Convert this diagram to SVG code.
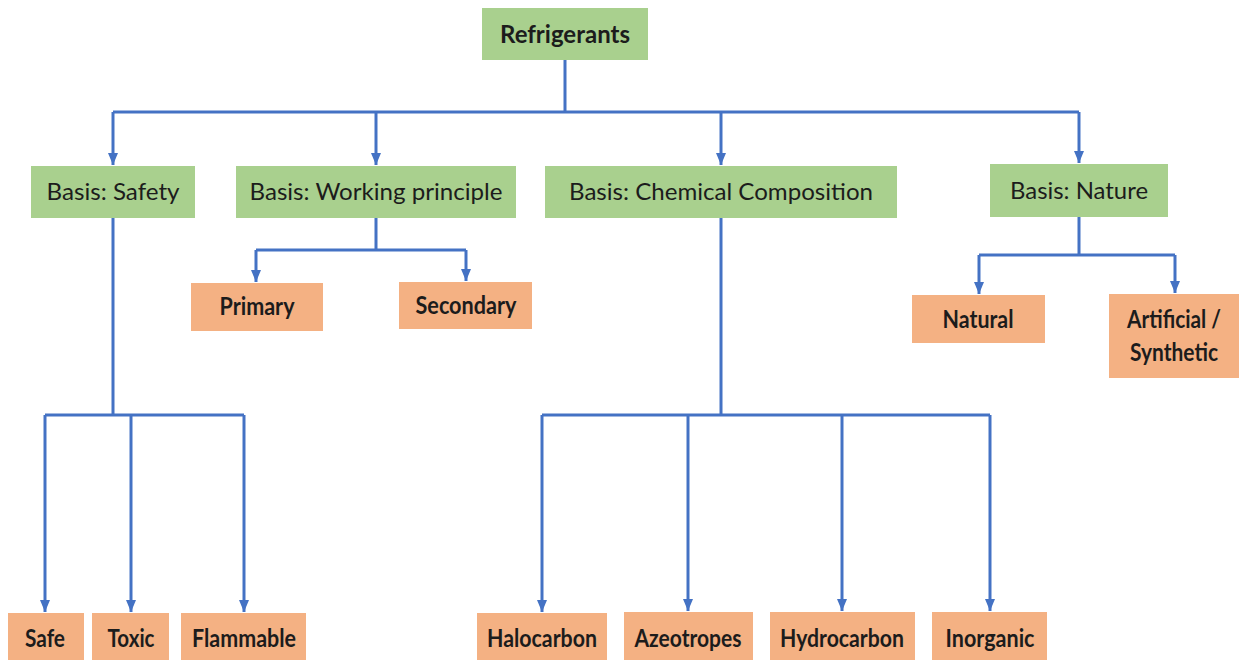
<svg xmlns="http://www.w3.org/2000/svg" width="1239" height="660" viewBox="0 0 1239 660">
<defs>
<style>
.g{fill:#a9d08e}
.o{fill:#f4b183}
.t{font-family:Lato,"Open Sans","Liberation Sans",sans-serif;font-size:24px;fill:#1c1c1c;text-anchor:middle}
.b{font-weight:bold}
.c{fill:none;stroke:#4472c4;stroke-width:3}
</style>
<marker id="ah" markerUnits="userSpaceOnUse" viewBox="0 0 12 10" refX="12" refY="5" markerWidth="12" markerHeight="10" orient="auto">
<path d="M0,0 L12,5 L0,10 z" fill="#4472c4"/>
</marker>
</defs>
<rect width="1239" height="660" fill="#ffffff"/>
<g id="connectors">
<path class="c" d="M565,60 V112 M113,112 H1079"/>
<path class="c" d="M113,112 V165" marker-end="url(#ah)"/>
<path class="c" d="M376,112 V165" marker-end="url(#ah)"/>
<path class="c" d="M721,112 V165" marker-end="url(#ah)"/>
<path class="c" d="M1079,112 V163" marker-end="url(#ah)"/>
<path class="c" d="M376,218 V250 M256,250 H466"/>
<path class="c" d="M256,250 V282" marker-end="url(#ah)"/>
<path class="c" d="M466,250 V281" marker-end="url(#ah)"/>
<path class="c" d="M1079,217 V255 M979,255 H1175"/>
<path class="c" d="M979,255 V294" marker-end="url(#ah)"/>
<path class="c" d="M1175,255 V293" marker-end="url(#ah)"/>
<path class="c" d="M113,218 V415 M45,415 H244"/>
<path class="c" d="M45,415 V612" marker-end="url(#ah)"/>
<path class="c" d="M131,415 V612" marker-end="url(#ah)"/>
<path class="c" d="M244,415 V612" marker-end="url(#ah)"/>
<path class="c" d="M721,218 V415 M542,415 H990"/>
<path class="c" d="M542,415 V612" marker-end="url(#ah)"/>
<path class="c" d="M688,415 V611" marker-end="url(#ah)"/>
<path class="c" d="M842,415 V611" marker-end="url(#ah)"/>
<path class="c" d="M990,415 V611" marker-end="url(#ah)"/>
</g>
<g id="refrigerants"><rect class="g" x="482" y="8" width="166" height="52"/><text class="t b" x="565" y="43" textLength="130" lengthAdjust="spacingAndGlyphs">Refrigerants</text></g>
<g id="safety"><rect class="g" x="31" y="166" width="164" height="52"/><text class="t" x="113" y="200" textLength="133" lengthAdjust="spacingAndGlyphs">Basis: Safety</text></g>
<g id="working"><rect class="g" x="236" y="166" width="280" height="52"/><text class="t" x="376" y="200" textLength="253" lengthAdjust="spacingAndGlyphs">Basis: Working principle</text></g>
<g id="chemical"><rect class="g" x="545" y="166" width="352" height="52"/><text class="t" x="721" y="200" textLength="304" lengthAdjust="spacingAndGlyphs">Basis: Chemical Composition</text></g>
<g id="nature"><rect class="g" x="990" y="164" width="178" height="53"/><text class="t" x="1079" y="199" textLength="138" lengthAdjust="spacingAndGlyphs">Basis: Nature</text></g>
<g id="primary"><rect class="o" x="191" y="283" width="132" height="48"/><text class="t b" x="257" y="315" textLength="75" lengthAdjust="spacingAndGlyphs">Primary</text></g>
<g id="secondary"><rect class="o" x="399" y="282" width="133" height="47"/><text class="t b" x="466" y="314" textLength="101" lengthAdjust="spacingAndGlyphs">Secondary</text></g>
<g id="natural"><rect class="o" x="912" y="295" width="133" height="48"/><text class="t b" x="978" y="328" textLength="71" lengthAdjust="spacingAndGlyphs">Natural</text></g>
<g id="artificial"><rect class="o" x="1109" y="294" width="130" height="84"/><text class="t b" x="1174" y="328" textLength="94" lengthAdjust="spacingAndGlyphs">Artificial /</text><text class="t b" x="1174" y="361" textLength="88" lengthAdjust="spacingAndGlyphs">Synthetic</text></g>
<g id="safe"><rect class="o" x="8" y="613" width="76" height="47"/><text class="t b" x="45" y="647" textLength="40" lengthAdjust="spacingAndGlyphs">Safe</text></g>
<g id="toxic"><rect class="o" x="92" y="613" width="77" height="47"/><text class="t b" x="131" y="647" textLength="47" lengthAdjust="spacingAndGlyphs">Toxic</text></g>
<g id="flammable"><rect class="o" x="181" y="613" width="125" height="47"/><text class="t b" x="244" y="647" textLength="104" lengthAdjust="spacingAndGlyphs">Flammable</text></g>
<g id="halocarbon"><rect class="o" x="477" y="613" width="130" height="47"/><text class="t b" x="542" y="647" textLength="110" lengthAdjust="spacingAndGlyphs">Halocarbon</text></g>
<g id="azeotropes"><rect class="o" x="624" y="612" width="129" height="48"/><text class="t b" x="688" y="647" textLength="107" lengthAdjust="spacingAndGlyphs">Azeotropes</text></g>
<g id="hydrocarbon"><rect class="o" x="770" y="612" width="145" height="48"/><text class="t b" x="842" y="647" textLength="124" lengthAdjust="spacingAndGlyphs">Hydrocarbon</text></g>
<g id="inorganic"><rect class="o" x="932" y="612" width="115" height="48"/><text class="t b" x="990" y="647" textLength="89" lengthAdjust="spacingAndGlyphs">Inorganic</text></g>
</svg>
